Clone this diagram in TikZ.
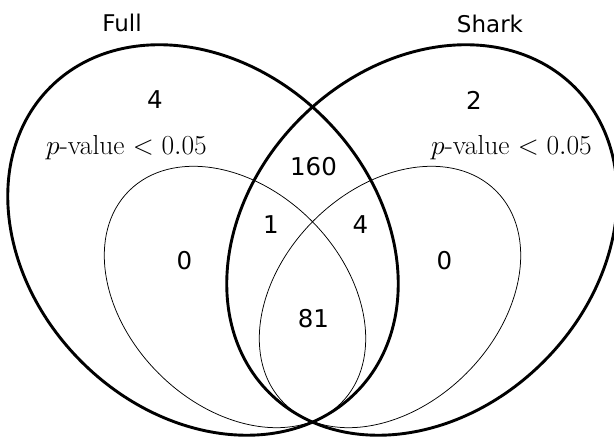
\RequirePackage{fix-cm}
\documentclass[tikz,border=0pt]{standalone}
\usepackage{fontspec}
\newfontfamily\dejavu{DejaVu Sans}
\begin{document}
\begin{tikzpicture}[x=1pt,y=1pt,
  bigset/.style={line width=2.9pt},
  subset/.style={line width=0.75pt},
  setname/.style={font=\dejavu\fontsize{23}{27}\selectfont, inner sep=0pt},
  count/.style={font=\dejavu\fontsize{24.5}{28}\selectfont, inner sep=0pt},
  plabel/.style={font=\fontsize{27.5}{31}\selectfont, inner sep=0pt, anchor=base}]
\useasboundingbox (0,0) rectangle (614,438);
% sets
\draw[bigset, rotate around={-45:(203,198)}] (203,198) ellipse [x radius=216, y radius=172];
\draw[bigset, rotate around={45:(422,198)}] (422,198) ellipse [x radius=216, y radius=172];
\draw[subset, rotate around={-45:(235,141)}] (235,141) ellipse [x radius=150, y radius=108];
\draw[subset, rotate around={45:(390,141)}] (390,141) ellipse [x radius=150, y radius=108];
% labels
\node[setname] (full) at (122,415) {Full};
\node[setname] (shark) at (490,414.5) {Shark};
\node[plabel] (pl) at (126.5,283) {$p$-value $<0.05$};
\node[plabel] (pr) at (511.5,283) {$p$-value $<0.05$};
\node[count] (c4l) at (155,338.5) {4};
\node[count] (c2) at (474,338) {2};
\node[count] (c160) at (313.5,271.5) {160};
\node[count] (c1) at (271,213) {1};
\node[count] (c4m) at (360.5,213) {4};
\node[count] (c0l) at (184.5,177.5) {0};
\node[count] (c0r) at (444.5,177.5) {0};
\node[count] (c81) at (313.5,119) {81};
\end{tikzpicture}
\end{document}
